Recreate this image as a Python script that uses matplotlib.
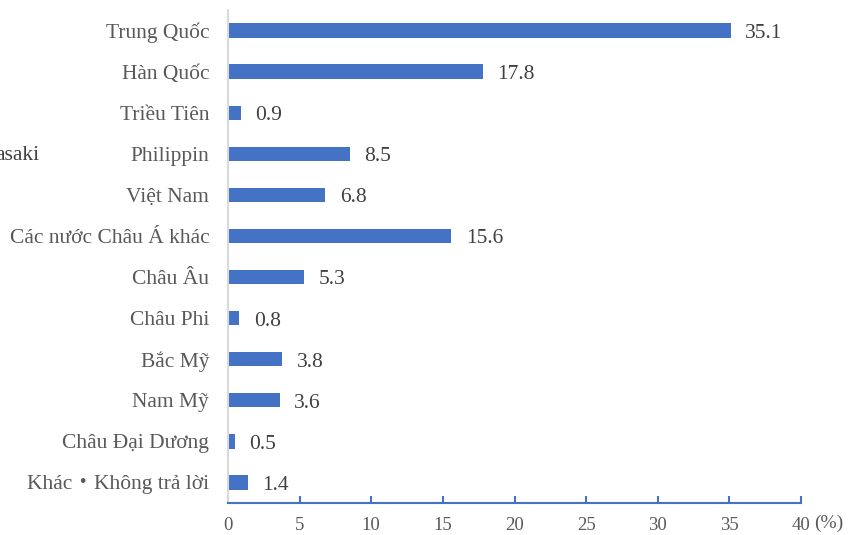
import matplotlib.pyplot as plt

# data
categories = ["Trung Quốc", "Hàn Quốc", "Triều Tiên", "Philippin", "Việt Nam",
              "Các nước Châu Á khác", "Châu Âu", "Châu Phi", "Bắc Mỹ", "Nam Mỹ",
              "Châu Đại Dương", "Khác・Không trả lời"]
values = [35.1, 17.8, 0.9, 8.5, 6.8, 15.6, 5.3, 0.8, 3.8, 3.6, 0.5, 1.4]
xticks = [0, 5, 10, 15, 20, 25, 30, 35, 40]

plt.rcParams['font.family'] = ['Liberation Serif', 'Noto Sans CJK JP', 'DejaVu Sans']

blue = '#4472C4'
fig = plt.figure(figsize=(8.58, 5.35), dpi=100)
ax = fig.add_axes([228 / 858, 1 - 503 / 535, (801 - 228) / 858, 493 / 535])

pos = list(range(len(categories)))
ax.barh(pos, values, height=0.35, color=blue)
for p, v in zip(pos, values):
    ax.text(v + 1.0, p + 0.07, f"{v}", va='center', ha='left', fontsize=15.5, color='#404040')

ax.set_xlim(0, 40)
ax.set_ylim(len(categories) - 0.5, -0.5)
ax.set_yticks(pos)
ax.set_yticklabels(categories, fontsize=15.5, color='#595959')
ax.set_xticks(xticks)
ax.set_xticklabels([str(t) for t in xticks], fontsize=13.5, color='#595959')

ax.tick_params(axis='y', length=0, pad=13.5)
ax.tick_params(axis='x', direction='in', length=5, color=blue, width=1.5, pad=10)

for s in ['top', 'right']:
    ax.spines[s].set_visible(False)
ax.spines['bottom'].set_color(blue)
ax.spines['bottom'].set_linewidth(1.5)
ax.spines['left'].set_color('#d9d9d9')
ax.spines['left'].set_linewidth(1.5)

fig.text(814 / 858, 1 - 523 / 535, "(%)", fontsize=14, color='#595959', ha='left', va='center')
# label partly cut off at the left edge, as in the source picture
fig.text(39 / 858, 1 - 156 / 535, "asaki", fontsize=15.5, color='#404040', ha='right', va='center')

fig.savefig("out.png", dpi=100)
